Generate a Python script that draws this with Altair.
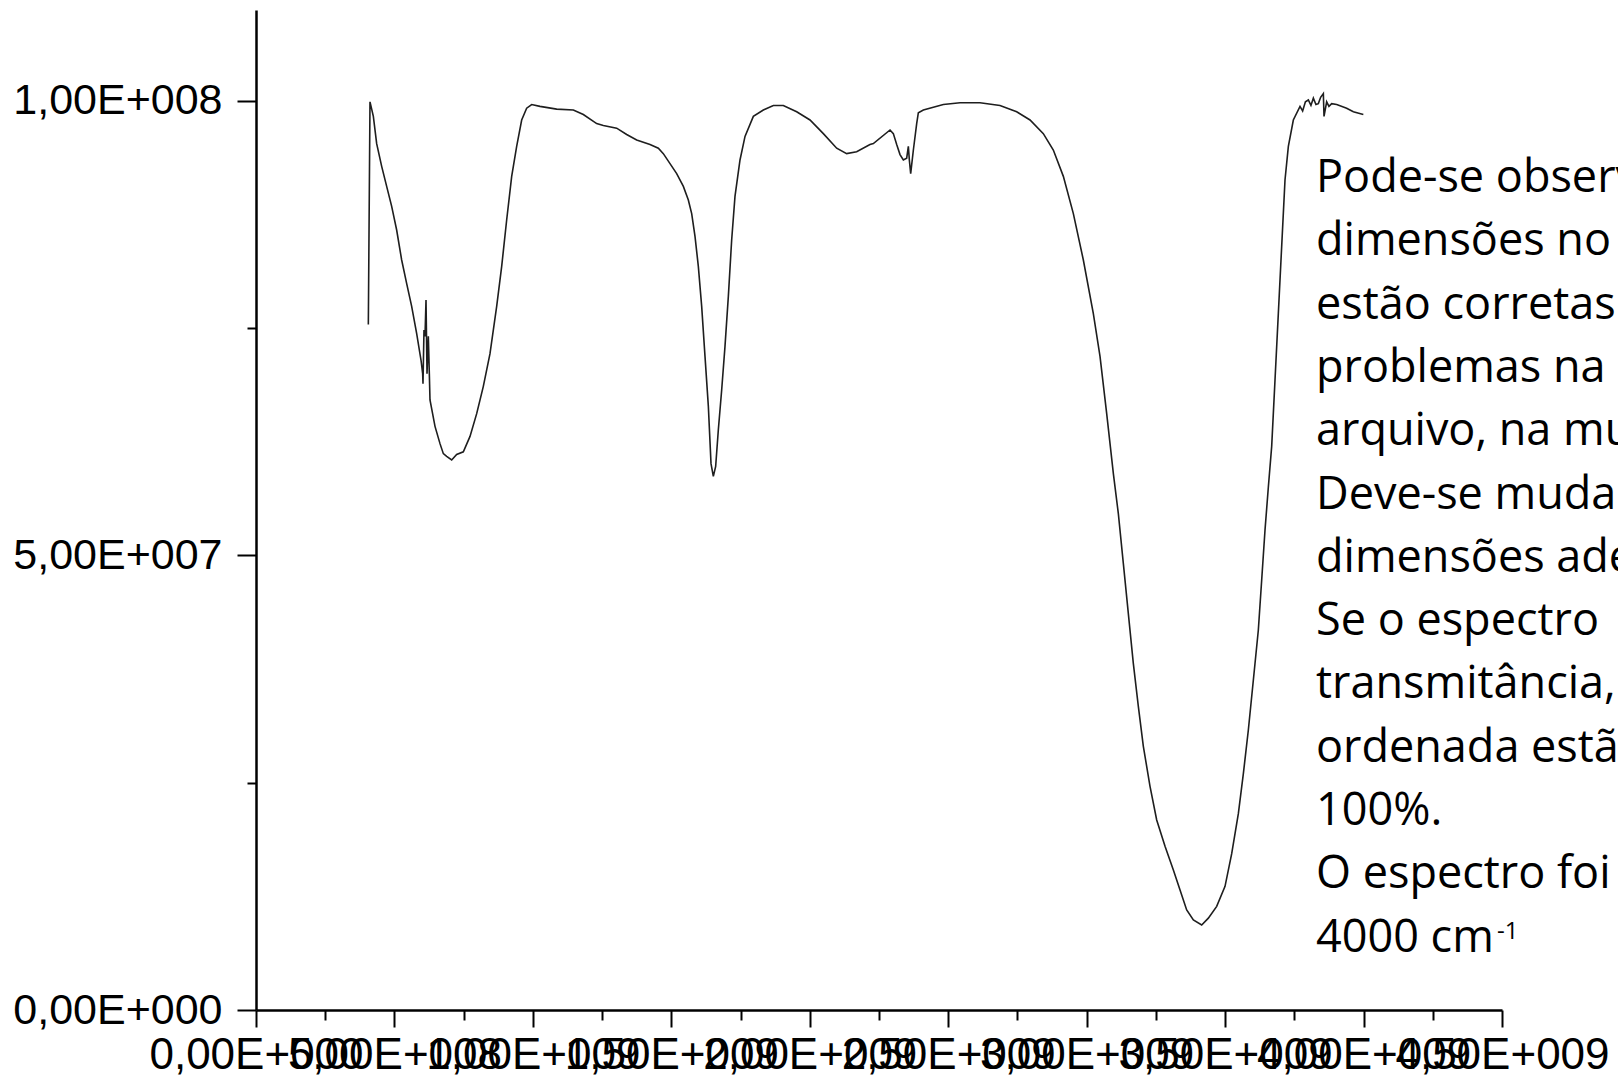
import altair as alt
import pandas as pd

# Infrared spectrum: wavenumber (cm-1) and transmittance (%)
WAVENUMBER = [
    405.7, 411.7, 423.8, 435.8, 453.9, 471.9, 490.0, 508.0, 526.1, 544.2,
    562.2, 580.3, 595.9, 601.9, 603.1, 606.7, 610.4, 614.0, 617.6, 622.4,
    626.0, 628.4, 646.5, 664.5, 676.6, 688.6, 706.7, 724.7, 748.8, 772.9,
    797.0, 821.0, 845.1, 869.2, 887.3, 905.3, 923.4, 941.4, 959.5, 977.5,
    995.6, 1025.7, 1085.9, 1146.1, 1182.2, 1230.4, 1254.4, 1302.6, 1338.7, 1374.8,
    1423.0, 1453.1, 1471.1, 1495.2, 1519.3, 1543.4, 1561.4, 1573.5, 1585.5, 1597.5,
    1609.6, 1621.6, 1633.7, 1643.3, 1651.7, 1660.1, 1669.7, 1681.8, 1693.8, 1705.9,
    1717.9, 1729.9, 1748.0, 1766.1, 1796.2, 1832.3, 1868.4, 1904.5, 1952.7, 2000.8,
    2049.0, 2097.1, 2133.2, 2169.3, 2217.4, 2229.6, 2289.8, 2301.8, 2313.9, 2325.9,
    2337.9, 2350.0, 2356.0, 2359.6, 2364.4, 2374.1, 2386.1, 2392.1, 2410.2, 2482.4,
    2542.6, 2614.8, 2687.0, 2747.2, 2795.4, 2843.5, 2879.6, 2915.8, 2951.9, 2988.0,
    3024.1, 3048.2, 3072.3, 3096.4, 3114.4, 3132.5, 3150.5, 3168.6, 3186.6, 3204.7,
    3228.8, 3252.9, 3283.0, 3313.1, 3337.2, 3361.2, 3385.3, 3415.4, 3439.5, 3469.6,
    3499.7, 3523.8, 3547.8, 3565.9, 3583.9, 3602.0, 3620.0, 3632.1, 3644.1, 3656.1,
    3668.2, 3680.2, 3692.2, 3704.3, 3716.3, 3728.4, 3746.4, 3770.5, 3780.0, 3790.0,
    3800.6, 3810.0, 3818.7, 3828.0, 3836.7, 3845.0, 3854.8, 3857.2, 3866.8, 3875.0,
    3884.9, 3902.9, 3939.0, 3963.1, 3999.2,
]
TRANSMITTANCE = [
    75.4, 99.9, 98.3, 95.3, 92.8, 90.6, 88.4, 85.8, 82.5, 79.9,
    77.4, 74.4, 71.5, 70.0, 68.9, 74.8, 74.1, 78.1, 70.0, 74.1,
    70.0, 67.1, 64.2, 62.3, 61.2, 60.9, 60.5, 61.1, 61.4, 63.1,
    65.6, 68.6, 72.2, 77.4, 81.8, 86.9, 91.7, 95.0, 97.9, 99.2,
    99.6, 99.4, 99.1, 99.0, 98.5, 97.5, 97.3, 97.0, 96.3, 95.7,
    95.2, 94.8, 94.2, 93.1, 92.0, 90.6, 89.1, 87.6, 85.1, 81.8,
    77.4, 71.9, 66.4, 60.1, 58.7, 59.8, 63.8, 68.2, 73.0, 78.5,
    84.7, 89.5, 93.5, 96.1, 98.3, 99.0, 99.5, 99.5, 98.8, 97.9,
    96.4, 94.8, 94.2, 94.4, 95.2, 95.3, 96.8, 96.4, 95.2, 94.1,
    93.5, 93.7, 95.0, 93.5, 92.0, 94.6, 97.5, 98.7, 99.0, 99.6,
    99.8, 99.8, 99.5, 98.8, 97.9, 96.4, 94.6, 91.7, 87.6, 82.5,
    76.6, 71.9, 65.6, 59.0, 54.6, 49.1, 43.6, 38.1, 33.4, 29.0,
    24.6, 20.9, 18.0, 15.4, 13.2, 11.0, 9.9, 9.35, 10.1, 11.4,
    13.6, 17.2, 21.6, 26.0, 30.8, 36.3, 41.8, 47.3, 52.8, 57.5,
    62.0, 69.3, 76.6, 84.0, 91.3, 95.0, 97.9, 99.4, 98.9, 99.9,
    100.1, 99.5, 100.3, 99.6, 99.7, 100.4, 100.8, 98.3, 99.9, 99.4,
    99.7, 99.6, 99.2, 98.8, 98.5,
]

# The exported file carries both columns multiplied by 1e6
EXPORT_FACTOR = 1e6

X_TICK_VALUES = [
    0, 250000000, 500000000, 750000000, 1000000000, 1250000000, 1500000000,
    1750000000, 2000000000, 2250000000, 2500000000, 2750000000, 3000000000,
    3250000000, 3500000000, 3750000000, 4000000000, 4250000000, 4500000000,
]
X_TICK_LABELS = [
    "0,00E+000", "", "5,00E+008", "", "1,00E+009", "", "1,50E+009",
    "", "2,00E+009", "", "2,50E+009", "", "3,00E+009",
    "", "3,50E+009", "", "4,00E+009", "", "4,50E+009",
]
Y_TICK_VALUES = [0, 25000000, 50000000, 75000000, 100000000]
Y_TICK_LABELS = ["0,00E+000", "", "5,00E+007", "", "1,00E+008"]

NOTE_LINES = [
    "Pode-se observar",
    "dimensões no",
    "estão corretas",
    "problemas na",
    "arquivo, na mudança",
    "Deve-se mudar",
    "dimensões adequadas",
    "Se o espectro",
    "transmitância,",
    "ordenada estão",
    "100%.",
    "O espectro foi",
    "4000 cm",
]
NOTE_SUPERSCRIPT = "-1"


def label_expr(values, labels):
    vals = ",".join(str(v) for v in values)
    labs = ",".join("'" + s + "'" for s in labels)
    return f"[{labs}][indexof([{vals}], datum.value)]"


df = pd.DataFrame({
    "x": [w * EXPORT_FACTOR for w in WAVENUMBER],
    "y": [t * EXPORT_FACTOR for t in TRANSMITTANCE],
    "i": list(range(len(WAVENUMBER))),
})

axis_common = dict(
    grid=False,
    title=None,
    domainColor="black",
    domainWidth=2.5,
    tickColor="black",
    tickWidth=2,
    labelColor="black",
    labelFont="Liberation Sans",
    labelOverlap=False,
    labelFlush=False,
    labelLimit=0,
)

x_axis = alt.Axis(
    values=X_TICK_VALUES,
    labelExpr=label_expr(X_TICK_VALUES, X_TICK_LABELS),
    tickSize={"condition": {"test": "datum.value % 500000000 !== 0", "value": 10}, "value": 17},
    labelFontSize=44,
    labelPadding=6,
    **axis_common,
)
y_axis = alt.Axis(
    values=Y_TICK_VALUES,
    labelExpr=label_expr(Y_TICK_VALUES, Y_TICK_LABELS),
    tickSize={"condition": {"test": "datum.value % 50000000 !== 0", "value": 9}, "value": 19},
    labelFontSize=43,
    labelPadding=15,
    **axis_common,
)

spectrum = alt.Chart(df).mark_line(color="#1e1e1e", strokeWidth=1.6).encode(
    x=alt.X("x:Q", scale=alt.Scale(domain=[0, 4500000000], nice=False, zero=False), axis=x_axis),
    y=alt.Y("y:Q", scale=alt.Scale(domain=[0, 110000000], nice=False), axis=y_axis),
    order=alt.Order("i:Q"),
)

note_src = pd.DataFrame({"k": [0]})
note = alt.Chart(note_src).mark_text(
    text=NOTE_LINES,
    align="left",
    baseline="alphabetic",
    font="Open Sans",
    fontSize=45,
    lineHeight=63.3,
    color="black",
).encode(x=alt.value(1060), y=alt.value(182))

superscript = alt.Chart(note_src).mark_text(
    text=NOTE_SUPERSCRIPT,
    align="left",
    baseline="alphabetic",
    font="Open Sans",
    fontSize=24,
    color="black",
).encode(x=alt.value(1241), y=alt.value(929))

chart = (
    alt.layer(spectrum, note, superscript)
    .properties(
        width=1246,
        height=1000,
        autosize=alt.AutoSizeParams(type="none"),
        padding={"left": 256, "top": 10, "right": 116, "bottom": 78},
        background="white",
    )
    .configure_view(strokeWidth=0)
)

chart.save("out.html", embed_options={"renderer": "svg", "actions": False})
